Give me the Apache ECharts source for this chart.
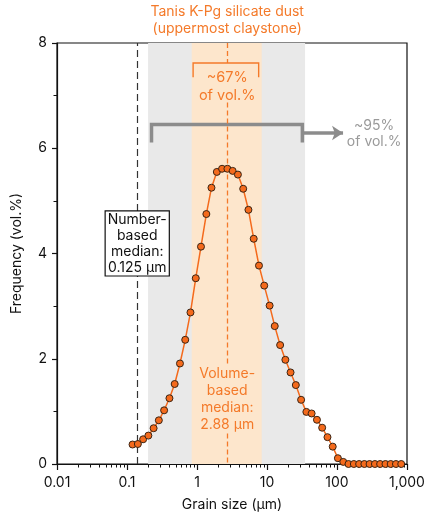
<!DOCTYPE html>
<html>
<head>
<meta charset="utf-8">
<script src="https://cdn.jsdelivr.net/npm/echarts@6/dist/echarts.min.js"></script>
<style>
  html, body { margin: 0; padding: 0; background: #fff; }
  #chart { width: 440px; height: 520px; }
</style>
</head>
<body>
<div id="chart"></div>
<script>
// grain size bins (µm) and volume frequency (vol.%)
const grainSize = [
    0.120, 0.143, 0.170, 0.202, 0.240, 0.285, 0.339, 0.404, 0.480, 0.571,
    0.679, 0.807, 0.960, 1.14, 1.36, 1.61, 1.92, 2.28, 2.72, 3.23,
    3.84, 4.57, 5.43, 6.46, 7.68, 9.13, 10.9, 12.9, 15.4, 18.3,
    21.7, 25.8, 30.7, 36.5, 43.4, 51.7, 61.4, 73.1, 86.9, 103,
    123, 146, 174, 207, 246, 292, 348, 413, 492, 585,
    695, 827
];
const frequency = [
    0.37, 0.38, 0.47, 0.54, 0.68, 0.83, 1.02, 1.25, 1.52, 1.91,
    2.36, 2.88, 3.53, 4.13, 4.75, 5.25, 5.55, 5.61, 5.61, 5.57,
    5.50, 5.23, 4.83, 4.28, 3.77, 3.39, 3.01, 2.62, 2.26, 1.98,
    1.74, 1.50, 1.22, 0.99, 0.96, 0.84, 0.69, 0.51, 0.33, 0.11,
    0.04, 0, 0, 0, 0, 0, 0, 0, 0, 0,
    0, 0
];

const xTickLabels = { 0.01: '0.01', 0.1: '0.1', 1: '1', 10: '10', 100: '100', 1000: '1,000' };
const xMinorTicks = [
    0.02, 0.03, 0.04, 0.05, 0.06, 0.07, 0.08, 0.09,
    0.2, 0.3, 0.4, 0.5, 0.6, 0.7, 0.8, 0.9,
    2, 3, 4, 5, 6, 7, 8, 9,
    20, 30, 40, 50, 60, 70, 80, 90,
    200, 300, 400, 500, 600, 700, 800, 900
];

// shaded ranges and medians (µm)
const range95 = [0.2, 35];
const range67 = [0.84, 8.4];
const numberMedianLine = 0.14;
const volumeMedianLine = 2.7;

const ORANGE = '#f47a2a';
const GREY = '#8c8c8c';
const FONT = 'Inter, "Noto Sans", sans-serif';
const FS = 14;

const chart = echarts.init(document.getElementById('chart'));

const option = {
    animation: false,
    grid: { left: 57, right: 33, top: 43, bottom: 56, show: true, borderColor: '#111', borderWidth: 1.2, backgroundColor: 'transparent' },
    xAxis: [{
        type: 'log',
        logBase: 10,
        min: 0.01,
        max: 1000,
        name: 'Grain size (µm)',
        nameLocation: 'middle',
        nameGap: 34,
        nameTextStyle: { color: '#111', fontSize: FS, fontFamily: FONT },
        axisLine: { show: true, lineStyle: { color: '#111', width: 1.2 } },
        axisTick: { show: true, inside: false, length: 6, lineStyle: { color: '#111', width: 1.2 } },
        axisLabel: {
            color: '#111', fontSize: FS, fontFamily: FONT, margin: 12,
            formatter: v => xTickLabels[v] || ''
        },
        splitLine: { show: false }
    }, {
        type: 'log',
        logBase: 10,
        min: 0.01,
        max: 1000,
        position: 'bottom',
        axisLine: { show: false },
        axisTick: { show: true, inside: false, length: 3.5, customValues: xMinorTicks, lineStyle: { color: '#111', width: 1 } },
        axisLabel: { show: false },
        splitLine: { show: false }
    }],
    yAxis: {
        type: 'value',
        min: 0,
        max: 8,
        interval: 2,
        name: 'Frequency (vol.%)',
        nameLocation: 'middle',
        nameGap: 33,
        nameTextStyle: { color: '#111', fontSize: FS, fontFamily: FONT },
        axisLine: { show: true, lineStyle: { color: '#111', width: 1.2 } },
        axisTick: { show: true, inside: false, length: 5, lineStyle: { color: '#111', width: 1.2 } },
        minorTick: { show: true, splitNumber: 2, length: 3.5, lineStyle: { color: '#111', width: 1 } },
        axisLabel: { color: '#111', fontSize: FS, fontFamily: FONT, margin: 10 },
        splitLine: { show: false }
    },
    series: [
        {
            // grey ~95% band
            type: 'line', data: [], silent: true, z: 1,
            markArea: {
                silent: true,
                itemStyle: { color: '#e9e9e9' },
                data: [[{ xAxis: range95[0] }, { xAxis: range95[1] }]]
            }
        },
        {
            // orange ~67% band + median lines
            type: 'line', data: [], silent: true, z: 2,
            markArea: {
                silent: true,
                itemStyle: { color: '#fde6cc' },
                data: [[{ xAxis: range67[0] }, { xAxis: range67[1] }]]
            },
            markLine: {
                silent: true,
                symbol: ['none', 'none'],
                label: { show: false },
                data: [
                    [{ coord: [numberMedianLine, 0], lineStyle: { color: '#333', type: [7, 4], width: 1.2 } },
                     { coord: [numberMedianLine, 8] }],
                    [{ coord: [volumeMedianLine, 8], lineStyle: { color: ORANGE, type: [5, 3], width: 1.3 } },
                     { coord: [volumeMedianLine, 7.62] }],
                    [{ coord: [volumeMedianLine, 6.87], lineStyle: { color: ORANGE, type: [5, 3], width: 1.3 } },
                     { coord: [volumeMedianLine, 1.9] }],
                    [{ coord: [volumeMedianLine, 0.58], lineStyle: { color: ORANGE, type: [5, 3], width: 1.3 } },
                     { coord: [volumeMedianLine, 0] }]
                ]
            }
        },
        {
            // ~67% bracket
            type: 'line', silent: true, z: 3, symbol: 'none',
            lineStyle: { color: ORANGE, width: 1.4, join: 'miter' },
            data: [[0.88, 7.35], [0.88, 7.62], [7.6, 7.62], [7.6, 7.35]]
        },
        {
            // ~95% bracket with arrow
            type: 'line', silent: true, z: 3, symbol: 'none',
            lineStyle: { color: GREY, width: 3.5, join: 'miter' },
            data: [[0.224, 6.11], [0.224, 6.45], [32, 6.45], [32, 6.11]],
            markLine: {
                silent: true,
                symbol: ['none', 'arrow'],
                symbolSize: [11, 11],
                label: { show: false },
                lineStyle: { color: GREY, width: 3.5, type: 'solid' },
                data: [[{ coord: [32, 6.29] }, { coord: [122, 6.29] }]]
            }
        },
        {
            name: 'Tanis K-Pg silicate dust',
            type: 'line',
            z: 5,
            data: grainSize.map((g, i) => [g, frequency[i]]),
            symbol: 'circle',
            symbolSize: 7,
            lineStyle: { color: '#f46a1c', width: 1.5 },
            itemStyle: { color: '#f46a1c', borderColor: '#3a2414', borderWidth: 1 }
        }
    ]
};

chart.setOption(option);

// annotations placed at data coordinates
const px = (x, y) => chart.convertToPixel({ xAxisIndex: 0, yAxisIndex: 0 }, [x, y]);
const txt = (pos, text, color, extra) => ({
    type: 'text', z: 20, x: pos[0], y: pos[1],
    style: Object.assign({
        text: text, fill: color, font: FS + 'px ' + FONT,
        align: 'center', verticalAlign: 'top', lineHeight: 16
    }, extra || {})
});

const titlePos = px(volumeMedianLine, 8);
const numPos = px(numberMedianLine, 4.8);
const volPos = px(volumeMedianLine, 1.9);
const p67 = px(volumeMedianLine, 7.5);
const p95 = px(340, 6.45);

chart.setOption({
    graphic: [
        txt([titlePos[0], 4], 'Tanis K-Pg silicate dust\n(uppermost claystone)', ORANGE, { lineHeight: 16.5 }),
        txt([p67[0], p67[1]], '~67%\nof vol.%', ORANGE, { lineHeight: 17.5, font: '14.5px ' + FONT }),
        txt([p95[0], p95[1] - 7], '~95%\nof vol.%', '#9a9a9a', { lineHeight: 16 }),
        txt([volPos[0], volPos[1] + 1], 'Volume-\nbased\nmedian:\n2.88 µm', ORANGE, { lineHeight: 17 }),
        txt([numPos[0], numPos[1]], 'Number-\nbased\nmedian:\n0.125 µm', '#111', {
            backgroundColor: '#fff', borderColor: '#111', borderWidth: 1.2,
            padding: [0, 2, 0, 2], lineHeight: 16
        })
    ]
});
</script>
</body>
</html>
